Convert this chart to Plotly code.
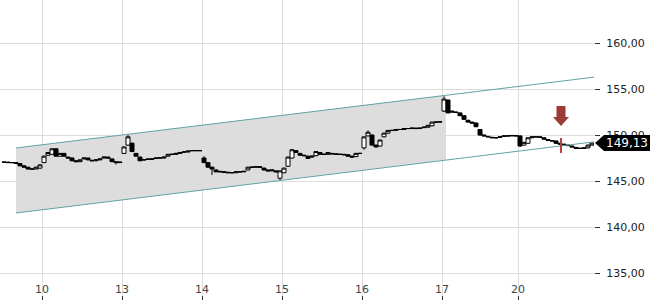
import plotly.graph_objects as go

# ---- data ----
opens = [147.05,147.05,147.0,147.0,146.9,146.65,146.5,146.3,146.3,146.4,
 147.0,147.8,147.9,148.5,147.7,148.0,147.6,147.5,147.2,147.1,147.4,147.5,147.25,147.2,147.3,147.5,147.6,147.4,147.1,147.0,
 148.0,148.9,149.1,148.0,147.6,147.3,147.4,147.35,147.45,147.5,147.5,147.7,147.9,147.9,148.0,148.15,148.15,148.3,148.3,148.3,
 147.5,147.0,146.5,146.2,146.05,146.0,145.95,145.9,145.9,146.0,146.0,146.2,146.5,146.5,146.55,146.4,146.2,146.1,146.1,145.3,
 145.9,146.6,147.5,148.3,148.0,147.8,147.7,147.6,147.75,148.1,147.9,147.9,148.0,147.95,147.9,147.9,147.85,147.7,147.65,148.0,
 148.6,149.9,150.0,148.9,148.8,149.8,150.2,150.5,150.5,150.6,150.6,150.7,150.7,150.75,150.7,150.8,150.85,151.0,151.4,151.4,
 152.6,153.8,152.6,152.5,152.4,152.1,151.6,151.4,151.3,150.6,150.0,149.85,149.75,149.7,149.75,149.85,149.9,149.9,149.95,
 149.9,148.9,149.1,149.7,149.8,149.8,149.7,149.5,149.4,149.35,149.1,149.0,148.9,148.8,148.65,148.55,148.55,148.6,148.9]
highs = [147.1,147.1,147.05,147.0,146.9,146.7,146.5,146.35,146.55,146.8,
 147.75,148.15,148.55,148.55,148.05,148.05,147.65,147.55,147.25,147.35,147.55,147.5,147.3,147.35,147.45,147.65,147.65,147.45,147.15,147.1,
 148.75,150.0,149.2,148.05,147.65,147.35,147.45,147.45,147.55,147.55,147.65,147.95,147.95,148.05,148.15,148.2,148.3,148.35,148.35,148.35,
 147.7,147.05,146.55,146.25,146.1,146.05,146.0,145.95,146.05,146.05,146.1,146.55,146.55,146.6,146.6,146.45,146.25,146.25,146.15,146.15,
 146.45,147.65,148.45,148.35,148.05,147.85,147.75,147.75,148.25,148.15,147.95,148.15,148.05,148.0,147.95,147.95,147.9,147.75,148.05,148.05,
 149.85,150.5,150.05,148.95,149.5,150.25,150.55,150.55,150.65,150.65,150.75,150.75,150.8,150.8,150.8,150.9,151.1,151.45,151.45,151.5,
 154.2,153.85,152.65,152.55,152.45,152.15,151.65,151.45,151.35,150.65,150.05,149.9,149.8,149.75,149.85,149.95,149.95,150.0,150.0,
 149.95,149.25,149.75,149.85,149.85,149.85,149.75,149.55,149.45,149.4,149.15,149.05,148.95,148.85,148.7,148.6,148.65,148.95,149.15]
lows = [147.0,146.95,146.95,146.85,146.6,146.45,146.25,146.25,146.3,146.35,
 146.95,147.75,147.85,147.65,147.65,147.65,147.45,147.15,147.05,147.05,147.35,147.25,147.15,147.15,147.25,147.45,147.45,147.05,146.8,146.95,
 147.95,148.85,148.15,147.65,147.15,147.25,147.3,147.3,147.4,147.45,147.45,147.65,147.85,147.85,147.95,148.1,148.1,148.25,148.25,148.25,
 146.95,146.45,145.65,145.95,145.95,145.9,145.85,145.85,145.85,145.95,145.95,146.15,146.45,146.45,146.45,146.15,146.05,146.05,145.95,145.1,
 145.85,146.55,147.45,148.05,147.75,147.7,147.4,147.55,147.7,147.85,147.85,147.85,147.9,147.85,147.85,147.8,147.65,147.55,147.6,147.95,
 148.4,149.85,148.85,148.65,148.75,149.75,150.15,150.45,150.45,150.55,150.55,150.65,150.65,150.65,150.65,150.75,150.8,150.95,151.35,151.35,
 152.5,152.35,152.45,152.4,152.05,151.65,151.35,151.25,150.85,149.95,149.85,149.75,149.65,149.65,149.7,149.8,149.85,149.85,149.85,
 148.7,148.85,149.05,149.65,149.75,149.7,149.5,149.35,149.3,149.05,148.95,148.85,148.8,148.65,148.5,148.5,148.5,148.55,148.85]
closes = [147.05,147.0,147.0,146.9,146.65,146.5,146.3,146.3,146.5,146.75,
 147.7,148.1,148.5,147.7,148.0,147.7,147.5,147.2,147.1,147.3,147.5,147.3,147.2,147.3,147.4,147.6,147.5,147.1,147.0,147.05,
 148.7,149.8,148.2,147.7,147.2,147.3,147.35,147.4,147.5,147.5,147.6,147.9,147.9,148.0,148.1,148.15,148.25,148.3,148.3,148.3,
 147.0,146.5,146.3,146.0,146.0,145.95,145.9,145.9,146.0,146.0,146.05,146.5,146.5,146.55,146.5,146.2,146.1,146.2,146.0,146.1,
 146.4,147.6,148.4,148.1,147.8,147.75,147.45,147.7,148.2,147.9,147.9,148.1,147.95,147.9,147.9,147.85,147.7,147.6,148.0,148.0,
 149.8,150.3,148.9,148.7,149.45,150.2,150.5,150.5,150.6,150.6,150.7,150.7,150.75,150.7,150.75,150.85,151.05,151.4,151.4,151.45,
 153.9,152.4,152.5,152.45,152.1,151.7,151.4,151.3,150.9,150.0,149.9,149.8,149.7,149.7,149.8,149.9,149.9,149.95,149.9,
 148.8,149.2,149.7,149.8,149.8,149.75,149.55,149.4,149.35,149.1,149.0,148.9,148.85,148.7,148.55,148.55,148.6,148.9,149.13]

day_tick_pos = [9.5, 29.5, 49.5, 69.5, 89.5, 109.5, 128.5]
day_tick_labels = ["10", "13", "14", "15", "16", "17", "20"]
price_ticks = [135, 140, 145, 150, 155, 160]

channel_x = [3, 147.75]
channel_upper = [148.59, 156.30]
channel_lower = [141.52, 149.27]
fill_x = [3, 110.5]
fill_upper = [148.59, 154.32]
fill_lower = [141.52, 147.30]

signal_x = 139.25
signal_arrow_price = 150.98
signal_line = [148.04, 149.67]

last_price = closes[-1]

# ---- figure ----
fig = go.Figure()

# channel fill as a shape below gridlines
fill_path = (f"M {fill_x[0]} {fill_upper[0]} L {fill_x[1]} {fill_upper[1]} "
             f"L {fill_x[1]} {fill_lower[1]} L {fill_x[0]} {fill_lower[0]} Z")
fig.add_shape(type="path", xref="x", yref="y", path=fill_path,
              fillcolor="#dddddd", line=dict(width=0), layer="below")

x_idx = list(range(len(closes)))
fig.add_trace(go.Candlestick(
    x=x_idx, open=opens, high=highs, low=lows, close=closes,
    increasing=dict(line=dict(color="black", width=1), fillcolor="white"),
    decreasing=dict(line=dict(color="black", width=1), fillcolor="black"),
    whiskerwidth=0,
))

for ys in (channel_upper, channel_lower):
    fig.add_trace(go.Scatter(x=channel_x, y=ys, mode="lines",
                             line=dict(color="#5fa3a6", width=1), hoverinfo="skip"))

fig.add_trace(go.Scatter(x=[signal_x, signal_x], y=signal_line, mode="lines",
                         line=dict(color="#b0443f", width=2), hoverinfo="skip"))

# arrow (pixel-sized, anchored at signal)
fig.add_shape(type="path", xref="x", yref="y", xsizemode="pixel", ysizemode="pixel",
              xanchor=signal_x, yanchor=signal_arrow_price,
              path="M -4.5 20 L 4.5 20 L 4.5 9 L 8 9 L 0 0 L -8 9 L -4.5 9 Z",
              fillcolor="#9c3a36", line=dict(width=0), layer="above")

# hide gridlines in the bottom label strip
fig.add_shape(type="rect", xref="paper", yref="paper", x0=0, x1=1, y0=0, y1=0.056,
              fillcolor="white", line=dict(width=0), layer="between")

# price tag
fig.add_shape(type="path", xref="paper", yref="y", xsizemode="pixel", ysizemode="pixel",
              xanchor=1, yanchor=last_price,
              path="M 1 0 L 10 8 L 60 8 L 60 -8 L 10 -8 Z",
              fillcolor="black", line=dict(width=0), layer="above")
fig.add_annotation(xref="paper", yref="y", x=1, y=last_price, xanchor="left",
                   xshift=10, text=f"{last_price:.2f}".replace(".", ","),
                   showarrow=False, font=dict(color="white", size=12, family="DejaVu Sans"))

fig.update_layout(
    width=650, height=300, margin=dict(l=0, r=56, t=0, b=0),
    plot_bgcolor="white", paper_bgcolor="white", showlegend=False,
    separators=",.", boxgap=0, boxgroupgap=0,
    font=dict(family="DejaVu Sans", size=11, color="#222"),
    xaxis=dict(range=[-1, 147.5], tickvals=day_tick_pos, ticktext=day_tick_labels,
               showgrid=True, gridcolor="#dcdcdc", gridwidth=1, zeroline=False,
               ticks="inside", ticklen=4, tickcolor="#333", ticklabelposition="inside",
               rangeslider=dict(visible=False), showline=False),
    yaxis=dict(range=[132.065, 164.674], side="right", tickvals=price_ticks,
               tickformat=".2f", showgrid=True, gridcolor="#dcdcdc", gridwidth=1,
               zeroline=False, ticks="outside", ticklen=5, tickcolor="#333",
               ticklabelstandoff=4, showline=False),
)

fig.write_html("out.html")
